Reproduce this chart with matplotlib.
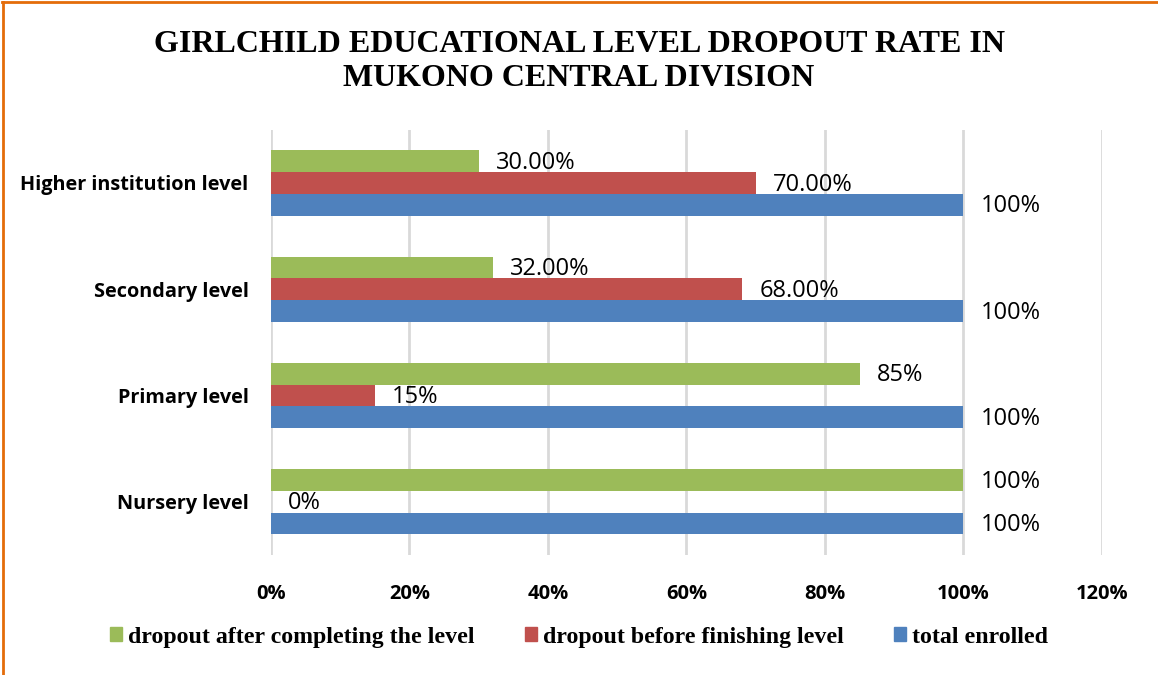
import matplotlib
matplotlib.use("Agg")
import matplotlib.pyplot as plt
import numpy as np
from matplotlib.lines import Line2D
from matplotlib.patches import Patch

categories = ["Nursery level", "Primary level", "Secondary level", "Higher institution level"]
total_enrolled = [100, 100, 100, 100]
dropout_before = [0, 15, 68, 70]
dropout_after = [100, 85, 32, 30]
labels_total = ["100%", "100%", "100%", "100%"]
labels_before = ["0%", "15%", "68.00%", "70.00%"]
labels_after = ["100%", "85%", "32.00%", "30.00%"]
xticks = [0, 20, 40, 60, 80, 100, 120]
xtick_labels = ["0%", "20%", "40%", "60%", "80%", "100%", "120%"]

c_green = "#9BBB59"
c_red = "#C0504D"
c_blue = "#4F81BD"

fig = plt.figure(figsize=(11.58, 6.75), dpi=100)
ax = fig.add_axes([0.234, 0.178, 0.7176, 0.6296])

y = np.arange(len(categories))
h = 0.205
series = [
    (total_enrolled, labels_total, c_blue, -h),
    (dropout_before, labels_before, c_red, 0),
    (dropout_after, labels_after, c_green, h),
]
for vals, labs, col, off in series:
    ax.barh(y + off, vals, height=h, color=col, zorder=3)
    for yi, v, lab in zip(y, vals, labs):
        ax.text(v + 2.5, yi + off - 0.015, lab, va="center", ha="left",
                fontsize=17, family="Open Sans", color="#000000", zorder=4)

ax.set_xlim(0, 120)
ax.set_ylim(-0.5, 3.5)
ax.set_xticks(xticks)
ax.set_xticklabels(xtick_labels, fontsize=14.5, fontweight="bold", family="Open Sans")
ax.set_yticks(y)
ax.set_yticklabels(categories, fontsize=14.3, fontweight="bold", family="Open Sans")
ax.tick_params(axis="both", length=0)
ax.tick_params(axis="x", pad=21)
ax.tick_params(axis="y", pad=16)
ax.grid(axis="x", color="#D9D9D9", linewidth=2, zorder=0)
for s in ax.spines.values():
    s.set_visible(False)

fig.text(0.5, 0.909, "GIRLCHILD EDUCATIONAL LEVEL DROPOUT RATE IN\nMUKONO CENTRAL DIVISION",
         ha="center", va="center", fontsize=23, fontweight="bold",
         family="Liberation Serif", linespacing=1.2)

handles = [Patch(color=c_green), Patch(color=c_red), Patch(color=c_blue)]
leg_labels = ["dropout after completing the level", "dropout before finishing level", "total enrolled"]
fig.legend(handles, leg_labels, loc="center", bbox_to_anchor=(0.5, 0.056), ncol=3,
           frameon=False, prop={"family": "Liberation Serif", "weight": "bold", "size": 17.2},
           handlelength=0.5, handleheight=0.5, handletextpad=0.25, columnspacing=2.1)

fig.add_artist(Line2D([0.003, 0.003], [0, 0.997], transform=fig.transFigure,
                      color="#E46C0A", linewidth=2))
fig.add_artist(Line2D([0.002, 1.0], [0.997, 0.997], transform=fig.transFigure,
                      color="#E46C0A", linewidth=2))

fig.savefig("out.png", dpi=100)
